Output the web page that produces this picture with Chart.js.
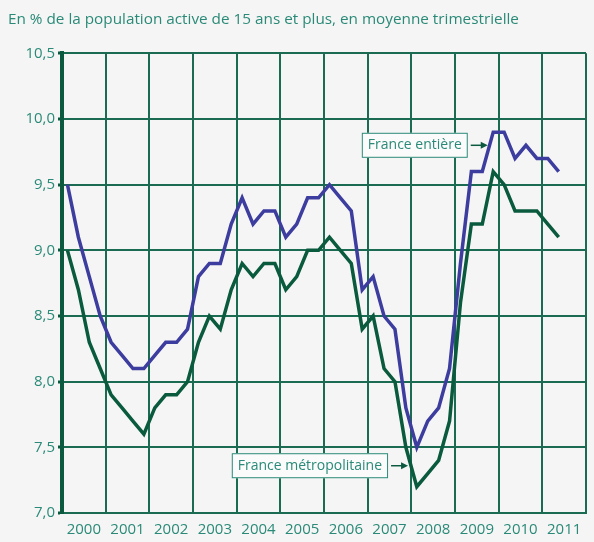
<!DOCTYPE html>
<html lang="fr">
<head>
    <meta charset="UTF-8">
    <title>Taux de chômage</title>
    <script src="https://cdn.jsdelivr.net/npm/chart.js"></script>
    <style>
        html, body {
            margin: 0;
            padding: 0;
            background-color: #f5f5f5;
        }
        #wrap {
            width: 594px;
            height: 542px;
        }
    </style>
</head>
<body>
    <div id="wrap"><canvas id="chomageChart" width="594" height="542"></canvas></div>

    <script>
        // années (libellés de l'axe horizontal)
        const years = ['2000', '2001', '2002', '2003', '2004', '2005', '2006', '2007', '2008', '2009', '2010', '2011'];

        // valeurs trimestrielles, 2000 T1 -> 2011 T2
        const franceEntiere = [
            9.5, 9.1, 8.8, 8.5,
            8.3, 8.2, 8.1, 8.1,
            8.2, 8.3, 8.3, 8.4,
            8.8, 8.9, 8.9, 9.2,
            9.4, 9.2, 9.3, 9.3,
            9.1, 9.2, 9.4, 9.4,
            9.5, 9.4, 9.3, 8.7,
            8.8, 8.5, 8.4, 7.8,
            7.5, 7.7, 7.8, 8.1,
            8.9, 9.6, 9.6, 9.9,
            9.9, 9.7, 9.8, 9.7,
            9.7, 9.6
        ];
        const franceMetro = [
            9.0, 8.7, 8.3, 8.1,
            7.9, 7.8, 7.7, 7.6,
            7.8, 7.9, 7.9, 8.0,
            8.3, 8.5, 8.4, 8.7,
            8.9, 8.8, 8.9, 8.9,
            8.7, 8.8, 9.0, 9.0,
            9.1, 9.0, 8.9, 8.4,
            8.5, 8.1, 8.0, 7.5,
            7.2, 7.3, 7.4, 7.7,
            8.6, 9.2, 9.2, 9.6,
            9.5, 9.3, 9.3, 9.3,
            9.2, 9.1
        ];

        const gridGreen = '#1a6b51';
        const axisGreen = '#0b5a40';
        const textTeal = '#2a8a77';

        // étiquettes des courbes : pointe de la flèche en coordonnées du graphique
        const labels = [
            { text: 'France entière', tipX: 39.0, tipY: 9.8 },
            { text: 'France métropolitaine', tipX: 31.7, tipY: 7.36 }
        ];

        function toPoints(values) {
            return values.map((v, i) => ({ x: i + 0.5, y: v }));
        }

        const labelPlugin = {
            id: 'curveLabels',
            afterDatasetsDraw(chart) {
                const ctx = chart.ctx;
                const xs = chart.scales.x;
                const ys = chart.scales.y;
                ctx.save();
                ctx.font = '14px "Open Sans", sans-serif';
                labels.forEach(l => {
                    const tx = xs.getPixelForValue(l.tipX);
                    const ty = ys.getPixelForValue(l.tipY);
                    const arrowLen = 17;
                    const gap = 3;
                    const w = ctx.measureText(l.text).width + 12;
                    const h = 25;
                    const right = tx - arrowLen - gap;
                    const left = right - w;
                    // boîte
                    ctx.fillStyle = '#fbfbfb';
                    ctx.fillRect(left, ty - h / 2, w, h);
                    ctx.strokeStyle = textTeal;
                    ctx.lineWidth = 1;
                    ctx.strokeRect(left + 0.5, ty - h / 2 + 0.5, w - 1, h - 1);
                    ctx.fillStyle = textTeal;
                    ctx.textBaseline = 'middle';
                    ctx.textAlign = 'left';
                    ctx.fillText(l.text, left + 6, ty);
                    // flèche
                    ctx.strokeStyle = axisGreen;
                    ctx.lineWidth = 1.5;
                    ctx.beginPath();
                    ctx.moveTo(right + gap, ty);
                    ctx.lineTo(tx - 4, ty);
                    ctx.stroke();
                    ctx.fillStyle = axisGreen;
                    ctx.beginPath();
                    ctx.moveTo(tx, ty);
                    ctx.lineTo(tx - 7, ty - 3.5);
                    ctx.lineTo(tx - 7, ty + 3.5);
                    ctx.closePath();
                    ctx.fill();
                });
                ctx.restore();
            }
        };

        const ctx = document.getElementById('chomageChart').getContext('2d');
        const chart = new Chart(ctx, {
            type: 'line',
            data: {
                datasets: [
                    {
                        label: 'France métropolitaine',
                        data: toPoints(franceMetro),
                        borderColor: '#0a5a3e',
                        borderWidth: 3.5,
                        pointRadius: 0,
                        tension: 0,
                        fill: false
                    },
                    {
                        label: 'France entière',
                        data: toPoints(franceEntiere),
                        borderColor: '#3c3d9e',
                        borderWidth: 3.5,
                        pointRadius: 0,
                        tension: 0,
                        fill: false
                    }
                ]
            },
            options: {
                responsive: false,
                animation: false,
                layout: {
                    padding: { left: 8, right: 4, top: 0, bottom: 0 }
                },
                scales: {
                    x: {
                        type: 'linear',
                        min: 0,
                        max: 48,
                        ticks: {
                            stepSize: 2,
                            autoSkip: false,
                            maxRotation: 0,
                            padding: 8,
                            color: textTeal,
                            font: { family: '"Open Sans", sans-serif', size: 15 },
                            callback: v => (v % 4 === 2 ? years[(v - 2) / 4] : '')
                        },
                        grid: {
                            drawTicks: false,
                            lineWidth: 2,
                            color: c => (c.tick && c.tick.value % 4 === 0 ? gridGreen : 'rgba(0,0,0,0)')
                        },
                        border: { color: gridGreen, width: 2 },
                        afterFit: scale => { scale.height = 29; }
                    },
                    y: {
                        min: 7,
                        max: 10.5,
                        ticks: {
                            stepSize: 0.5,
                            padding: 3,
                            color: textTeal,
                            font: { family: '"Open Sans", sans-serif', size: 15 },
                            callback: v => v.toFixed(1).replace('.', ',')
                        },
                        grid: {
                            lineWidth: 2,
                            color: gridGreen,
                            tickLength: 4,
                            tickColor: axisGreen,
                            tickWidth: 3
                        },
                        border: { color: axisGreen, width: 4 },
                        afterFit: scale => { scale.width = 54; }
                    }
                },
                plugins: {
                    legend: { display: false },
                    tooltip: { enabled: false },
                    title: {
                        display: true,
                        text: 'En % de la population active de 15 ans et plus, en moyenne trimestrielle',
                        align: 'start',
                        color: textTeal,
                        font: { family: '"Open Sans", sans-serif', size: 15.3, weight: 'normal' },
                        padding: { top: 10, bottom: 25 }
                    }
                }
            },
            plugins: [labelPlugin]
        });
    </script>
</body>
</html>
